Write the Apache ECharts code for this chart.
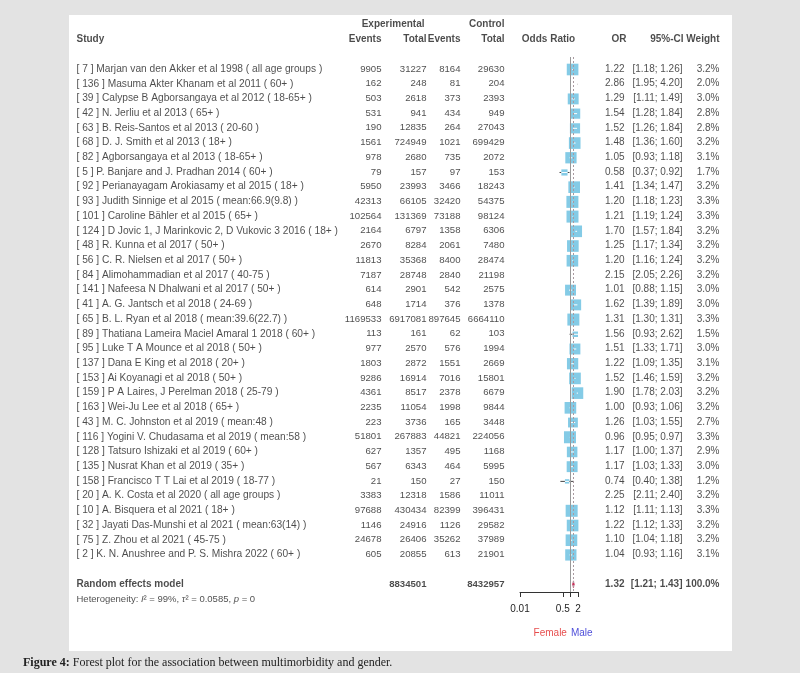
<!DOCTYPE html>
<html><head><meta charset="utf-8">
<script src="https://cdn.jsdelivr.net/npm/echarts@6/dist/echarts.min.js"></script>
<style>html,body{margin:0;padding:0;background:#e3e3e3}#c{width:800px;height:673px}</style>
</head><body><div id="c"></div>
<script>
// ---------------- data ----------------
const studies = [
  "[ 7 ] Marjan van den Akker et al 1998 ( all age groups )",
  "[ 136 ] Masuma Akter Khanam et al 2011 ( 60+ )",
  "[ 39 ] Calypse B Agborsangaya et al 2012 ( 18-65+ )",
  "[ 42 ] N. Jerliu et al 2013 ( 65+ )",
  "[ 63 ] B. Reis-Santos et al 2013 ( 20-60 )",
  "[ 68 ] D. J. Smith et al 2013 ( 18+ )",
  "[ 82 ] Agborsangaya et al 2013 ( 18-65+ )",
  "[ 5 ] P. Banjare and J. Pradhan 2014 ( 60+ )",
  "[ 92 ] Perianayagam Arokiasamy et al 2015 ( 18+ )",
  "[ 93 ] Judith Sinnige et al 2015 ( mean:66.9(9.8) )",
  "[ 101 ] Caroline Bähler et al 2015 ( 65+ )",
  "[ 124 ] D Jovic 1, J Marinkovic 2, D Vukovic 3 2016 ( 18+ )",
  "[ 48 ] R. Kunna et al 2017 ( 50+ )",
  "[ 56 ] C. R. Nielsen et al 2017 ( 50+ )",
  "[ 84 ] Alimohammadian et al 2017 ( 40-75 )",
  "[ 141 ] Nafeesa N Dhalwani et al 2017 ( 50+ )",
  "[ 41 ] A. G. Jantsch et al 2018 ( 24-69 )",
  "[ 65 ] B. L. Ryan et al 2018 ( mean:39.6(22.7) )",
  "[ 89 ] Thatiana Lameira Maciel Amaral 1 2018 ( 60+ )",
  "[ 95 ] Luke T A Mounce et al 2018 ( 50+ )",
  "[ 137 ] Dana E King et al 2018 ( 20+ )",
  "[ 153 ] Ai Koyanagi et al 2018 ( 50+ )",
  "[ 159 ] P A Laires, J Perelman 2018 ( 25-79 )",
  "[ 163 ] Wei-Ju Lee et al 2018 ( 65+ )",
  "[ 43 ] M. C. Johnston et al 2019 ( mean:48 )",
  "[ 116 ] Yogini V. Chudasama et al 2019 ( mean:58 )",
  "[ 128 ] Tatsuro Ishizaki et al 2019 ( 60+ )",
  "[ 135 ] Nusrat Khan et al 2019 ( 35+ )",
  "[ 158 ] Francisco T T Lai et al 2019 ( 18-77 )",
  "[ 20 ] A. K. Costa et al 2020 ( all age groups )",
  "[ 10 ] A. Bisquera et al 2021 ( 18+ )",
  "[ 32 ] Jayati Das-Munshi et al 2021 ( mean:63(14) )",
  "[ 75 ] Z. Zhou et al 2021 ( 45-75 )",
  "[ 2 ] K. N. Anushree and P. S. Mishra 2022 ( 60+ )"
];
const expEvents = [9905,162,503,531,190,1561,978,79,5950,42313,102564,2164,2670,11813,7187,614,648,1169533,113,977,1803,9286,4361,2235,223,51801,627,567,21,3383,97688,1146,24678,605];
const expTotal = [31227,248,2618,941,12835,724949,2680,157,23993,66105,131369,6797,8284,35368,28748,2901,1714,6917081,161,2570,2872,16914,8517,11054,3736,267883,1357,6343,150,12318,430434,24916,26406,20855];
const ctrlEvents = [8164,81,373,434,264,1021,735,97,3466,32420,73188,1358,2061,8400,2840,542,376,897645,62,576,1551,7016,2378,1998,165,44821,495,464,27,1586,82399,1126,35262,613];
const ctrlTotal = [29630,204,2393,949,27043,699429,2072,153,18243,54375,98124,6306,7480,28474,21198,2575,1378,6664110,103,1994,2669,15801,6679,9844,3448,224056,1168,5995,150,11011,396431,29582,37989,21901];
const orVals = [1.22,2.86,1.29,1.54,1.52,1.48,1.05,0.58,1.41,1.20,1.21,1.70,1.25,1.20,2.15,1.01,1.62,1.31,1.56,1.51,1.22,1.52,1.90,1.00,1.26,0.96,1.17,1.17,0.74,2.25,1.12,1.22,1.10,1.04];
const ciLow = [1.18,1.95,1.11,1.28,1.26,1.36,0.93,0.37,1.34,1.18,1.19,1.57,1.17,1.16,2.05,0.88,1.39,1.30,0.93,1.33,1.09,1.46,1.78,0.93,1.03,0.95,1.00,1.03,0.40,2.11,1.11,1.12,1.04,0.93];
const ciHigh = [1.26,4.20,1.49,1.84,1.84,1.60,1.18,0.92,1.47,1.23,1.24,1.84,1.34,1.24,2.26,1.15,1.89,1.31,2.62,1.71,1.35,1.59,2.03,1.06,1.55,0.97,1.37,1.33,1.38,2.40,1.13,1.33,1.18,1.16];
const weights = [3.2,2.0,3.0,2.8,2.8,3.2,3.1,1.7,3.2,3.3,3.3,3.2,3.2,3.2,3.2,3.0,3.0,3.3,1.5,3.0,3.1,3.2,3.2,3.2,2.7,3.3,2.9,3.0,1.2,3.2,3.3,3.2,3.2,3.1];
const pooledName = "Random effects model";
const pooledOR = 1.32, pooledLow = 1.21, pooledHigh = 1.43, pooledWeight = 100.0;
const pooledExpTotal = 8834501, pooledCtrlTotal = 8432957;
const heterogeneity = { I2: "99%", tau2: "0.0585", p: "0" };
const axisMin = 0.01, axisMax = 2;
const tickValues = [0.01, 0.5, 1, 2];
const tickLabels = [0.01, 0.5, 2];
const leftLabel = "Female", rightLabel = "Male";
const captionBold = "Figure 4:";
const captionText = " Forest plot for the association between multimorbidity and gender.";

// ---------------- layout ----------------
const W = 800, H = 673;
const ROW0 = 69.5, ROWH = 14.71;
const FONT = '"Liberation Sans", Arial, Helvetica, sans-serif';
const FS = 10, FS_STUDY = 10.2, FS_NUM = 9.6;
const TXT = '#1e1e1e';
const COL = { study: 77, expEv: 382, expTot: 427, ctlEv: 461, ctlTot: 505, orc: 549, or: 625, ci: 683, wt: 720 };
const FOREST = { left: 520, right: 578, top: 57, bottom: 592 };
const L = Math.log10;
const n = studies.length;
const ROW_POOLED = 35.0, ROW_HET = 36.07, ROW_HDR1 = -3.03, ROW_HDR2 = -2.0, ROW_LR = 38.38;

const items = { left: [], right: [], center: [] };
function t(align, x, row, text, extra) {
  const d = { value: [x, row, text] };
  if (extra) d.label = extra;
  items[align].push(d);
}
const B = { fontWeight: 'bold' };
const BN = { fontWeight: 'bold', fontSize: FS_NUM };
const NUM = { fontSize: FS_NUM };
const STU = { fontSize: FS_STUDY };
// headers
t('right', 425, ROW_HDR1, 'Experimental', B);
t('right', COL.ctlTot, ROW_HDR1, 'Control', B);
t('left', COL.study, ROW_HDR2, 'Study', B);
t('right', COL.expEv, ROW_HDR2, 'Events', B);
t('right', COL.expTot, ROW_HDR2, 'Total', B);
t('right', COL.ctlEv, ROW_HDR2, 'Events', B);
t('right', COL.ctlTot, ROW_HDR2, 'Total', B);
t('center', COL.orc, ROW_HDR2, 'Odds Ratio', B);
t('right', 627, ROW_HDR2, 'OR', B);
t('right', 684, ROW_HDR2, '95%-CI', B);
t('right', COL.wt, ROW_HDR2, 'Weight', B);
const ciStr = (lo, hi) => '[' + lo.toFixed(2) + '; ' + hi.toFixed(2) + ']';
for (let i = 0; i < n; i++) {
  t('left', COL.study, i, studies[i], STU);
  t('right', COL.expEv, i, String(expEvents[i]), NUM);
  t('right', COL.expTot, i, String(expTotal[i]), NUM);
  t('right', COL.ctlEv, i, String(ctrlEvents[i]), NUM);
  t('right', COL.ctlTot, i, String(ctrlTotal[i]), NUM);
  t('right', COL.or, i, orVals[i].toFixed(2));
  t('right', COL.ci, i, ciStr(ciLow[i], ciHigh[i]));
  t('right', COL.wt, i, weights[i].toFixed(1) + '%');
}
t('left', COL.study, ROW_POOLED, pooledName, B);
t('right', COL.expTot, ROW_POOLED, String(pooledExpTotal), BN);
t('right', COL.ctlTot, ROW_POOLED, String(pooledCtrlTotal), BN);
t('right', COL.or, ROW_POOLED, pooledOR.toFixed(2), B);
t('right', COL.ci, ROW_POOLED, ciStr(pooledLow, pooledHigh), B);
t('right', COL.wt, ROW_POOLED, pooledWeight.toFixed(1) + '%', B);
t('left', COL.study, ROW_HET, 'Heterogeneity: {it|I}² = ' + heterogeneity.I2 + ', {it|τ}² = ' + heterogeneity.tau2 + ', {it|p} = ' + heterogeneity.p,
  { fontSize: 9.5, rich: { it: { fontStyle: 'italic', fontSize: 9.5, fontFamily: FONT, color: TXT } } });
const refX = FOREST.left + (L(1) - L(axisMin)) / (L(axisMax) - L(axisMin)) * (FOREST.right - FOREST.left);
t('right', refX - 3, ROW_LR, leftLabel, { color: '#e02020' });
t('left', refX + 1, ROW_LR, rightLabel, { color: '#2020d0' });

function textSeries(align) {
  return {
    type: 'scatter', xAxisIndex: 0, yAxisIndex: 0, symbolSize: 1, silent: true, clip: false,
    itemStyle: { color: 'rgba(0,0,0,0)' }, animation: false, z: 5,
    label: { show: true, position: [0, 0], align: align, verticalAlign: 'middle',
      fontFamily: FONT, fontSize: FS, color: TXT, formatter: p => p.value[2] },
    data: items[align]
  };
}

const forestData = orVals.map((v, i) => [i, L(v), L(ciLow[i]), L(ciHigh[i]), weights[i]]);
const xmin = L(axisMin), xmax = L(axisMax);

const option = {
  backgroundColor: '#e3e3e3',
  animation: false,
  textStyle: { fontFamily: FONT },
  graphic: [
    { type: 'rect', z: -100, shape: { x: 69, y: 15, width: 663, height: 636 }, style: { fill: '#ffffff' } },
    { type: 'text', x: 23, y: 663, style: { text: '{b|' + captionBold + '}' + captionText, font: '12px "Liberation Serif", "Times New Roman", serif',
        fill: '#222', verticalAlign: 'middle', rich: { b: { fontWeight: 'bold', fontFamily: '"Liberation Serif", serif', fontSize: 12, fill: '#222' } } } }
  ],
  grid: [
    { left: 0, top: 0, width: W, height: H },
    { left: FOREST.left, top: FOREST.top, width: FOREST.right - FOREST.left, height: FOREST.bottom - FOREST.top }
  ],
  xAxis: [
    { gridIndex: 0, type: 'value', min: 0, max: W, show: false },
    { gridIndex: 1, type: 'value', min: xmin, max: xmax, position: 'bottom',
      axisLine: { show: true, onZero: false, lineStyle: { color: '#333', width: 1 } },
      axisTick: { show: true, length: 5, customValues: tickValues.map(L), lineStyle: { color: '#333', width: 1 } },
      axisLabel: { show: true, customValues: tickLabels.map(L), margin: 12, fontSize: FS, color: TXT, fontFamily: FONT,
        formatter: v => String(parseFloat(Math.pow(10, v).toPrecision(2))) },
      splitLine: { show: false } }
  ],
  yAxis: [
    { gridIndex: 0, type: 'value', inverse: true, min: -ROW0 / ROWH, max: (H - ROW0) / ROWH, show: false },
    { gridIndex: 1, type: 'value', inverse: true, min: (FOREST.top - ROW0) / ROWH, max: (FOREST.bottom - ROW0) / ROWH, show: false,
      axisLine: { onZero: false } }
  ],
  series: [
    textSeries('left'), textSeries('right'), textSeries('center'),
    {
      type: 'custom', xAxisIndex: 1, yAxisIndex: 1, silent: true, z: 3,
      encode: { x: [1, 2, 3], y: 0 },
      data: forestData,
      renderItem: function (params, api) {
        const row = api.value(0), est = api.value(1), lo = api.value(2), hi = api.value(3), w = api.value(4);
        const cs = params.coordSys;
        const y = api.coord([est, row])[1];
        const xl = api.coord([lo, row])[0], xh = api.coord([hi, row])[0], xc = api.coord([est, row])[0];
        const x0 = cs.x, x1 = cs.x + cs.width;
        const ch = [];
        const a = Math.max(xl, x0), b = Math.min(xh, x1);
        const ls = { stroke: '#444', lineWidth: 1 };
        if (b > a) ch.push({ type: 'line', shape: { x1: a, y1: y, x2: b, y2: y }, style: ls });
        if (xh > x1 && b - a > 4) ch.push({ type: 'polyline', shape: { points: [[x1 - 3, y - 2], [x1, y], [x1 - 3, y + 2]] }, style: ls });
        if (xl < x0 && b - a > 4) ch.push({ type: 'polyline', shape: { points: [[x0 + 3, y - 2], [x0, y], [x0 + 3, y + 2]] }, style: ls });
        if (est >= xmin && est <= xmax) {
          const s = 12 * w / 3.3;
          ch.push({ type: 'rect', shape: { x: xc - s / 2, y: y - s / 2, width: s, height: s }, style: { fill: '#84cbe6' } });
          const ia = Math.max(a, xc - s / 2), ib = Math.min(b, xc + s / 2);
          if (ib > ia) ch.push({ type: 'line', shape: { x1: ia, y1: y, x2: ib, y2: y }, style: { stroke: '#ffffff', lineWidth: 1 } });
        }
        return { type: 'group', children: ch };
      },
      markLine: {
        silent: true, symbol: ['none', 'none'], label: { show: false },
        data: [
          { xAxis: L(1), lineStyle: { color: '#9a9a9a', type: 'solid', width: 1 } },
          { xAxis: L(pooledOR), lineStyle: { color: '#a89aa0', type: [2, 2], width: 1 } }
        ]
      }
    },
    {
      type: 'custom', xAxisIndex: 1, yAxisIndex: 1, silent: true, z: 4,
      encode: { x: [1, 2, 3], y: 0 },
      data: [[ROW_POOLED, L(pooledOR), L(pooledLow), L(pooledHigh)]],
      renderItem: function (params, api) {
        const row = api.value(0);
        const pc = api.coord([api.value(1), row]), pl = api.coord([api.value(2), row]), ph = api.coord([api.value(3), row]);
        const hh = 3.5;
        return { type: 'polygon', shape: { points: [[pl[0], pc[1]], [pc[0], pc[1] - hh], [ph[0], pc[1]], [pc[0], pc[1] + hh]] },
          style: { fill: '#c8305a', stroke: '#c8305a', lineWidth: 0.6 } };
      }
    }
  ]
};
const chart = echarts.init(document.getElementById('c'), null, { renderer: 'canvas' });
chart.setOption(option);
</script>
</body></html>
